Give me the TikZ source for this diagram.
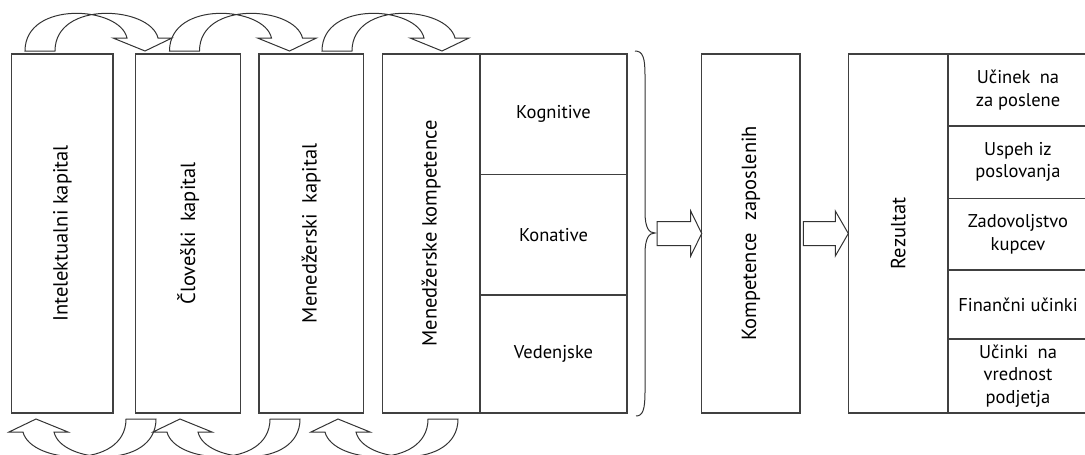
\documentclass[tikz,border=0pt]{standalone}
\usepackage{graphicx}
\usepackage{fontspec}
\setmainfont{PT Sans}
\usetikzlibrary{calc}
\tikzset{
  box/.style={draw=black!75, line width=1.1pt, inner sep=0pt, outer sep=0pt, align=center,
    font=\fontsize{18.5pt}{23pt}\selectfont},
  tall/.style={box, minimum width=#1, minimum height=359pt, font=\fontsize{20.5pt}{24pt}\selectfont},
  cell/.style={box, minimum width=#1},
  rcell/.style={box, minimum width=140pt, font=\fontsize{18.5pt}{22.5pt}\selectfont},
  bent/.style={draw=black!80, line width=1pt},
  blockarr/.style={draw=black!80, line width=1pt, line join=miter},
}

\begin{document}
\begin{tikzpicture}[x=1pt, y=-1pt]
\useasboundingbox (0,0) rectangle (1085,455);
\clip (0,0) rectangle (1085,455);
% kapital
\node[tall=101.3pt] (ik) at (62.35,233.5) {\rotatebox{90}{Intelektualni kapital}};
\node[tall=105pt] (ck) at (188.2,233.5) {\rotatebox{90}{Človeški\hspace{0.5em}kapital}};
\node[tall=104.3pt] (mk) at (311.15,233.5) {\rotatebox{90}{Menedžerski\hspace{0.5em}kapital}};
% kompetence
\node[tall=97.7pt] (mkomp) at (431.15,233.5) {\rotatebox{90}{Menedžerske kompetence}};
\node[cell=147pt, minimum height=120.3pt] (kog) at (553.5,114.15) {Kognitive};
\node[cell=147pt, minimum height=120.7pt] (kon) at (553.5,234.65) {Konative};
\node[cell=147pt, minimum height=118pt] (ved) at (553.5,354) {Vedenjske};
\node[tall=98.3pt] (komp) at (750.85,233.5) {\rotatebox{90}{Kompetence\hspace{0.6em}zaposlenih}};
% rezultat
\node[tall=99.7pt] (rez) at (898.15,233.5) {\rotatebox{90}{Rezultat}};
\node[rcell, minimum height=72pt] (r1) at (1018,90) {Učinek\hspace{0.5em}na\\za poslene};
\node[rcell, minimum height=72.3pt] (r2) at (1018,162.15) {Uspeh iz\\poslovanja};
\node[rcell, minimum height=71.7pt] (r3) at (1018,234.15) {Zadovoljstvo\\kupcev};
\node[rcell, minimum height=69pt] (r4) at (1018,304.5) {Finančni učinki};
\node[rcell, minimum height=74pt] (r5) at (1018,376) {Učinki\hspace{0.5em}na\\vrednost\\podjetja};

% zavita puscica zgoraj in spodaj
\foreach \s in {0,144.5,297}
  \draw[bent, shift={(\s,0)}] (25,51) .. controls (25,0) and (120,6) .. (127,38) -- (113,38) -- (145,51)
    -- (172,38) -- (158,38) .. controls (150,6) and (55,0) .. (55,51) -- cycle;
\foreach \c in {181,325,483}
  \draw[bent, shift={(\c,470)}, rotate=180] (25,51) .. controls (25,0) and (120,6) .. (127,38) -- (113,38) -- (145,51)
    -- (172,38) -- (158,38) .. controls (150,6) and (55,0) .. (55,51) -- cycle;

% zaviti oklepaj
\coordinate (bt) at (655,233);
\draw[bent] (635,51) .. controls (643,51) and (645,58) .. (645,75) -- (645,212)
  .. controls (645,228) and (649,233) .. (bt)
  .. controls (649,233) and (645,238) .. (645,254) -- (645,392)
  .. controls (645,409) and (643,416) .. (636,416);

% puscici
\draw[blockarr] (komp.west) -- ++(-11,-22.5) -- ++(0,10.5) -- ++(-33.7,0) -- ++(0,24) -- ++(33.7,0) -- ++(0,10.5) -- cycle;
\draw[blockarr] (rez.west) -- ++(-13,-22.5) -- ++(0,10.5) -- ++(-32,0) -- ++(0,24) -- ++(32,0) -- ++(0,10.5) -- cycle;
\end{tikzpicture}
\end{document}
